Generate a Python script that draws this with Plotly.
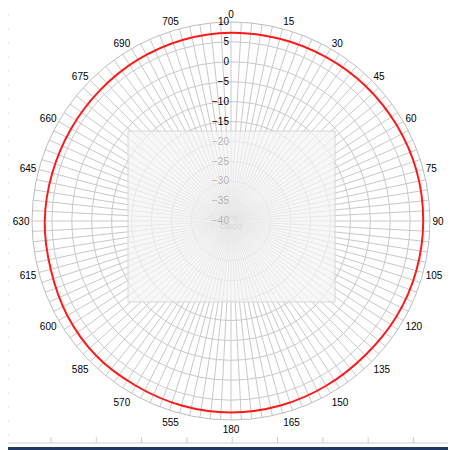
import plotly.graph_objects as go

# angulos das categorias (a cada 3 graus) e rotulos mostrados a cada 15 graus
angulos = list(range(0, 360, 3))
rotulos = ['0', '15', '30', '45', '60', '75', '90', '105', '120', '135', '150', '165',
           '180', '555', '570', '585', '600', '615', '630', '645', '660', '675', '690', '705']

theta_ganho = [0, 15, 30, 45, 60, 75, 90, 105, 120, 135, 150, 165,
               180, 195, 210, 225, 240, 255, 270, 285, 300, 315, 330, 345]
ganho = [7.3, 7.4, 7.6, 7.9, 8.1, 8.3, 8.3, 8.2, 8.0, 7.7, 7.8, 8.0,
         8.1, 8.0, 7.8, 7.9, 7.5, 6.9, 6.8, 6.5, 6.4, 6.5, 6.8, 7.1]

ticks_radiais = [10, 5, 0, -5, -10, -15, -20, -25, -30, -35, -40]

OFF = 8  # margem do body da pagina
W, H = 456 - OFF, 450 - OFF
cinza = '#c9c9c9'


def px(x):
    return (x - OFF) / W


def py(y):
    return 1 - (y - OFF) / H


fig = go.Figure()

fig.add_trace(go.Scatterpolar(
    r=ganho + [ganho[0]],
    theta=theta_ganho + [theta_ganho[0]],
    mode='lines',
    line=dict(color='#ff1a1a', width=2, shape='spline'),
    showlegend=False,
    hoverinfo='skip'
))

texto_ticks = [rotulos[a // 15] if a % 15 == 0 else '' for a in angulos]

fig.update_layout(
    width=W, height=H,
    margin=dict(l=0, r=0, t=0, b=0),
    paper_bgcolor='white',
    font=dict(family='Liberation Sans, Arial, sans-serif', size=10, color='#000000'),
    polar=dict(
        domain=dict(x=[px(32), px(430)], y=[py(420), py(22)]),
        bgcolor='white',
        angularaxis=dict(
            rotation=90, direction='clockwise',
            tickmode='array', tickvals=angulos, ticktext=texto_ticks,
            showgrid=True, gridcolor=cinza, gridwidth=1,
            showline=True, linecolor='#bdbdbd', linewidth=1,
            ticks='', tickfont=dict(size=10, color='#000000')
        ),
        radialaxis=dict(
            range=[-40, 10], tickvals=ticks_radiais,
            angle=90, tickangle=90, side='counterclockwise',
            showgrid=True, gridcolor=cinza, gridwidth=1,
            showline=False, ticks='',
            tickfont=dict(size=10, color='#000000')
        )
    )
)

shapes = []
# caixa esbranquicada (marca d'agua) sobre o centro do grafico
shapes.append(dict(type='rect', xref='paper', yref='paper',
                   x0=px(128), x1=px(335), y0=py(302), y1=py(131),
                   fillcolor='rgba(244,244,244,0.72)', line=dict(color='#d6d6d6', width=1),
                   layer='above'))
# moldura cinza interna
shapes.append(dict(type='rect', xref='paper', yref='paper',
                   x0=px(5), x1=px(453), y0=py(443), y1=py(4),
                   line=dict(color='#cfcfcf', width=1), layer='above'))
# marcas na borda esquerda e inferior
for y in range(15, 443, 14):
    shapes.append(dict(type='line', xref='paper', yref='paper',
                       x0=px(5), x1=px(9), y0=py(y), y1=py(y),
                       line=dict(color='#cfcfcf', width=1), layer='above'))
for i in range(9):
    x = 51 + i * 45.3
    shapes.append(dict(type='line', xref='paper', yref='paper',
                       x0=px(x), x1=px(x), y0=py(443), y1=py(437),
                       line=dict(color='#cfcfcf', width=1), layer='above'))
# borda azul escura
shapes.append(dict(type='rect', xref='paper', yref='paper',
                   x0=px(1.5), x1=px(454.5), y0=py(448.5), y1=py(1.5),
                   line=dict(color='#1f3864', width=3), layer='above'))
fig.update_layout(shapes=shapes)

fig.add_annotation(x=px(231), y=py(222), xref='paper', yref='paper',
                   text='·ı|ı·ı|ı·<br>CISCO', showarrow=False,
                   font=dict(size=7, color='#d4d4d4'))

fig.write_html("out.html")
